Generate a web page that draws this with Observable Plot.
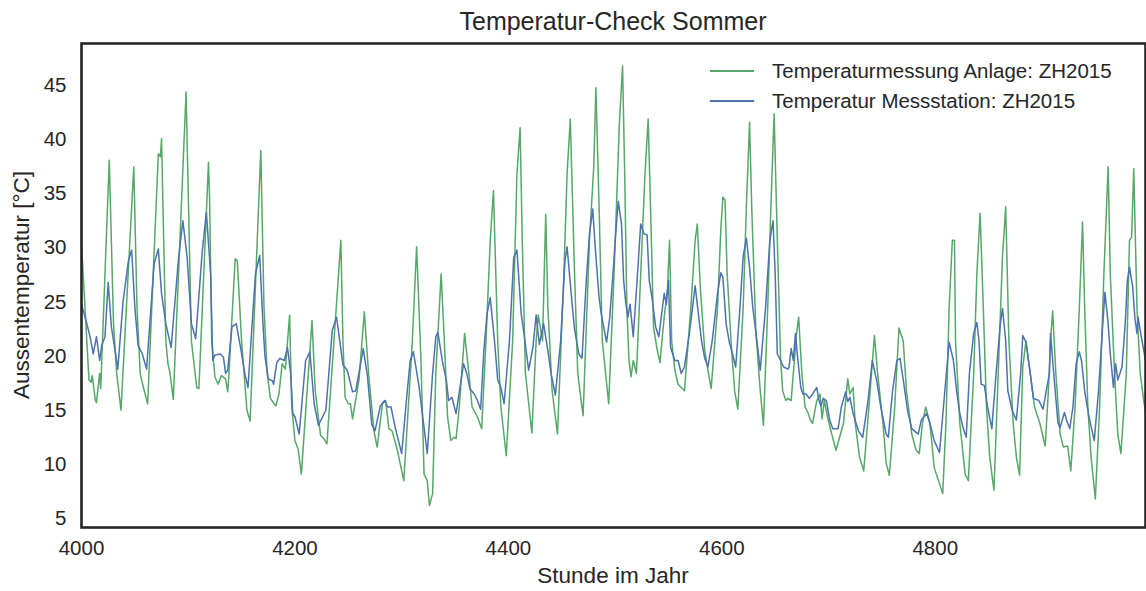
<!DOCTYPE html>
<html>
<head>
<meta charset="utf-8">
<script src="https://cdn.jsdelivr.net/npm/d3@7"></script>
<script src="https://cdn.jsdelivr.net/npm/@observablehq/plot@0.6"></script>
<style>
  html, body { margin: 0; padding: 0; background: #fff; }
  body { width: 1146px; height: 591px; overflow: hidden; font-family: "Liberation Sans", Arial, Helvetica, sans-serif; color: #262626; }
  #wrap { position: relative; width: 1146px; height: 591px; }
  #title { position: absolute; left: 81px; width: 1064px; top: 6px; text-align: center; font-size: 25px; line-height: 30px; }
  #xlabel { position: absolute; left: 81px; width: 1064px; top: 563px; text-align: center; font-size: 22.5px; line-height: 26px; }
  #ylabel { position: absolute; left: 22px; top: 285px; transform: translate(-50%, -50%) rotate(-90deg); white-space: nowrap; font-size: 22.5px; line-height: 26px; }
  #legend { position: absolute; left: 710px; top: 56px; font-size: 20.5px; }
  .row { display: flex; align-items: center; height: 30px; }
  .row svg { margin-right: 18px; }
</style>
</head>
<body>
<div id="wrap">
  <div id="chart"></div>
  <div id="title"></div>
  <div id="xlabel"></div>
  <div id="ylabel"></div>
  <div id="legend"></div>
</div>
<script>
const titleText = "Temperatur-Check Sommer";
const xLabelText = "Stunde im Jahr";
const yLabelText = "Aussentemperatur [°C]";
const seriesNames = ["Temperaturmessung Anlage: ZH2015", "Temperatur Messstation: ZH2015"];
const seriesColors = ["#55a868", "#4c72b0"];
const xTicks = [4000, 4200, 4400, 4600, 4800];
const yTicks = [5, 10, 15, 20, 25, 30, 35, 40, 45];

// [Stunde, °C]
const anlage = [
[4000,30.4],[4007,17.8],[4009,17.6],[4010,18.2],[4013,15.9],[4014,15.7],[4017,18.4],[4018,17.0],[4026,38.1],[4030,23.0],[4033,18.4],[4037,15.0],[4049,37.5],[4052,24.5],[4055,18.4],[4058,17.1],[4062,15.6],[4072,38.7],[4074,38.4],[4075,40.1],[4079,21.4],[4081,19.3],[4083,18.4],[4086,16.0],[4098,44.4],[4103,21.4],[4108,17.1],[4110,17.0],[4119,37.9],[4120,34.7],[4122,21.4],[4125,18.1],[4128,17.4],[4131,18.2],[4135,17.9],[4137,16.7],[4138,18.1],[4144,29.0],[4146,28.8],[4150,21.4],[4155,15.0],[4158,14.0],[4168,39.0],
[4171,24.5],[4174,18.4],[4177,16.1],[4182,15.4],[4185,16.5],[4188,19.3],[4191,18.8],[4195,23.8],[4197,15.3],[4200,12.2],[4203,11.4],[4206,9.1],[4216,23.3],[4219,16.8],[4224,12.7],[4227,12.4],[4230,11.9],[4243,30.7],[4245,21.4],[4247,16.2],[4250,15.6],[4252,15.6],[4254,14.2],[4260,17.8],[4265,24.1],[4269,18.4],[4274,13.1],[4277,11.6],[4282,15.6],[4285,15.9],[4288,13.3],[4291,13.1],[4296,11.3],[4302,8.5],[4307,16.5],[4310,21.4],[4314,30.1],[4318,19.9],[4321,9.1],[4324,8.5],[4326,6.2],
[4329,7.3],[4332,18.4],[4337,27.6],[4340,21.4],[4343,14.4],[4346,12.2],[4349,12.5],[4351,12.4],[4354,15.3],[4359,22.1],[4363,18.4],[4366,15.3],[4371,14.4],[4375,13.3],[4379,21.4],[4383,30.7],[4386,35.3],[4390,21.4],[4393,15.3],[4398,10.8],[4404,21.4],[4408,36.8],[4411,41.1],[4413,30.7],[4416,18.4],[4422,12.9],[4426,21.4],[4428,23.8],[4432,21.4],[4435,33.1],[4437,24.5],[4441,16.8],[4446,12.8],[4452,27.6],[4455,36.8],[4458,41.9],[4462,27.6],[4465,18.4],[4470,14.5],[4476,30.7],[4480,37.5],[4482,44.8],[4485,33.8],[4488,21.4],[4494,15.6],
[4499,27.6],[4504,41.5],[4507,46.8],[4509,36.8],[4511,24.5],[4513,19.6],[4515,18.1],[4517,19.6],[4520,18.4],[4524,27.6],[4528,36.8],[4531,41.9],[4534,30.7],[4536,22.7],[4539,20.8],[4542,19.4],[4546,23.6],[4549,26.1],[4551,30.7],[4553,21.4],[4556,18.7],[4559,17.4],[4562,17.1],[4565,16.8],[4571,24.5],[4575,30.7],[4577,32.2],[4580,26.1],[4584,20.5],[4587,18.7],[4590,17.0],[4596,24.5],[4599,31.6],[4601,34.7],[4603,34.4],[4605,27.6],[4609,20.8],[4612,16.8],[4615,15.1],[4620,24.5],[4623,33.8],[4626,41.6],[4628,33.8],[4632,22.1],[4636,16.8],[4639,13.6],[4643,24.5],[4646,33.8],[4649,42.4],[4652,30.7],[4655,19.9],[4657,16.8],[4660,15.9],[4662,16.1],[4665,15.9],
[4667,18.4],[4670,22.1],[4672,23.6],[4675,18.4],[4678,15.3],[4681,14.7],[4683,14.1],[4685,13.8],[4689,15.9],[4692,16.5],[4694,14.2],[4696,15.9],[4699,14.4],[4703,12.8],[4707,11.3],[4714,13.8],[4718,17.9],[4720,16.5],[4723,17.1],[4725,13.8],[4729,10.7],[4733,9.4],[4739,16.8],[4743,21.9],[4746,18.4],[4751,13.8],[4754,10.1],[4757,9.0],[4762,15.3],[4766,22.6],[4770,21.4],[4773,16.8],[4778,12.8],[4782,11.3],[4785,11.0],[4788,13.8],[4791,15.3],[4795,13.8],[4799,9.7],[4803,8.5],[4807,7.3],[4810,13.8],[4813,24.5],[4816,30.7],[4818,30.7],[4819,21.4],[4823,13.8],[4828,9.1],[4831,8.5],
[4836,18.4],[4839,27.6],[4842,33.2],[4845,24.5],[4848,15.3],[4851,10.7],[4855,7.6],[4859,18.4],[4863,29.2],[4866,33.8],[4869,21.4],[4873,13.8],[4876,10.7],[4879,9.0],[4882,19.0],[4885,21.4],[4889,18.4],[4893,15.3],[4898,13.8],[4903,11.7],[4906,16.8],[4908,21.4],[4910,24.2],[4913,18.4],[4917,12.8],[4920,11.6],[4924,11.7],[4927,9.4],[4931,15.3],[4935,24.5],[4938,32.4],[4940,24.5],[4943,15.3],[4946,10.7],[4950,6.8],[4954,15.3],[4958,27.6],[4962,37.5],[4964,27.6],[4968,18.4],[4971,12.8],[4974,11.0],[4979,18.4],[4982,30.7],[4984,31.0],[4986,37.3],[4989,24.5],[4992,18.4],[4997,14.7]
];

const messstation = [
[4000,24.8],[4005,23.0],[4008,21.8],[4011,20.2],[4014,21.8],[4017,19.6],[4019,21.0],[4022,21.8],[4025,26.8],[4028,22.7],[4031,20.8],[4034,18.8],[4039,25.1],[4044,28.8],[4047,29.8],[4050,24.5],[4053,21.0],[4057,20.2],[4061,18.8],[4068,28.5],[4072,29.9],[4075,25.8],[4079,23.0],[4084,20.8],[4091,29.1],[4095,32.5],[4099,29.1],[4103,23.0],[4107,21.6],[4113,29.5],[4117,33.3],[4121,27.6],[4123,19.6],[4125,20.1],[4130,20.2],[4133,19.9],[4135,18.4],[4137,18.7],[4141,22.7],[4145,23.0],[4149,20.8],[4153,18.4],[4156,17.1],[4163,27.6],[4167,29.3],
[4170,23.0],[4172,19.9],[4175,17.9],[4179,17.7],[4180,17.4],[4183,19.4],[4186,19.8],[4190,19.6],[4193,20.8],[4196,18.4],[4198,14.7],[4200,14.4],[4204,12.8],[4210,19.6],[4214,20.4],[4218,15.6],[4222,13.6],[4229,15.0],[4235,22.4],[4239,23.6],[4245,19.2],[4249,18.7],[4254,16.7],[4257,16.8],[4264,20.7],[4268,18.1],[4272,13.7],[4275,13.1],[4280,15.4],[4284,15.9],[4287,15.3],[4290,15.3],[4294,13.4],[4300,11.0],[4305,16.5],[4308,19.6],[4311,20.4],[4316,17.4],[4321,13.4],[4324,11.0],[4329,18.4],
[4332,21.8],[4334,22.2],[4338,19.6],[4342,17.7],[4344,15.9],[4347,16.2],[4351,14.7],[4358,19.3],[4361,18.4],[4364,17.0],[4368,16.5],[4371,15.9],[4374,15.1],[4377,20.5],[4380,23.9],[4383,25.4],[4387,21.4],[4390,17.8],[4393,17.1],[4396,15.6],[4401,21.4],[4405,29.1],[4408,29.8],[4412,23.9],[4415,21.8],[4419,18.7],[4423,20.8],[4426,23.8],[4429,21.1],[4433,23.0],[4437,20.5],[4440,18.4],[4444,16.4],[4449,21.4],[4453,28.8],[4455,30.1],[4460,24.5],[4462,22.5],[4466,20.2],[4469,19.8],[4473,27.0],[4476,31.3],[4479,33.6],[4482,29.2],[4485,25.4],[4487,23.9],[4492,21.3],[4495,23.6],[4498,27.6],
[4501,31.9],[4503,34.3],[4506,32.2],[4508,27.0],[4510,24.9],[4512,23.6],[4514,24.8],[4517,21.8],[4520,26.1],[4524,32.2],[4527,31.3],[4530,31.2],[4532,27.0],[4535,25.1],[4538,22.7],[4541,21.8],[4546,25.8],[4548,24.8],[4550,27.0],[4552,20.8],[4556,19.6],[4559,19.6],[4562,18.4],[4565,19.0],[4570,22.4],[4575,26.5],[4577,24.8],[4581,21.4],[4584,19.8],[4587,19.0],[4591,21.4],[4596,25.8],[4599,27.7],[4601,27.3],[4604,23.0],[4607,21.3],[4610,20.2],[4613,19.0],[4617,24.5],[4620,29.2],[4623,30.9],[4626,28.2],[4629,24.5],[4634,20.5],[4636,18.7],[4641,24.5],[4645,30.7],[4648,32.5],[4650,27.6],[4652,20.2],[4655,19.6],[4658,19.0],[4662,18.8],
[4663,19.0],[4665,20.7],[4667,19.6],[4669,22.1],[4671,19.9],[4674,17.1],[4676,16.5],[4679,16.5],[4682,16.1],[4685,16.5],[4689,17.1],[4691,15.9],[4693,15.4],[4695,16.1],[4698,15.9],[4701,14.1],[4704,13.3],[4709,13.3],[4712,15.3],[4716,16.7],[4718,15.8],[4720,16.2],[4723,14.7],[4728,13.1],[4732,12.5],[4737,15.9],[4741,19.6],[4745,17.8],[4749,15.3],[4754,12.8],[4756,12.5],[4760,16.8],[4764,19.6],[4767,19.8],[4770,17.8],[4774,15.0],[4778,13.3],[4784,12.8],[4787,14.1],[4792,14.7],[4795,13.8],[4799,12.2],[4804,11.1],[4809,16.8],[4813,21.3],[4817,19.6],[4820,16.8],[4823,14.7],[4826,13.4],[4829,12.5],
[4832,18.4],[4836,22.1],[4839,23.1],[4841,21.4],[4843,17.4],[4846,17.3],[4849,15.3],[4853,13.3],[4857,18.4],[4861,23.0],[4863,24.4],[4866,21.4],[4868,16.8],[4872,15.0],[4876,14.1],[4880,18.4],[4882,21.9],[4885,21.3],[4889,18.4],[4892,16.1],[4897,15.9],[4901,15.1],[4904,16.8],[4907,18.4],[4908,22.1],[4911,18.4],[4915,13.8],[4917,13.4],[4921,14.8],[4923,14.1],[4926,13.3],[4929,15.3],[4932,19.3],[4935,20.4],[4937,19.6],[4940,16.8],[4944,14.4],[4949,12.2],[4953,16.8],[4957,23.0],[4959,25.9],[4962,23.0],[4964,20.2],[4967,17.1],[4969,19.3],[4971,17.8],[4975,19.0],[4978,23.0],[4980,27.0],[4982,28.2],[4985,26.4],[4987,23.6],[4989,22.1],[4990,23.6],[4992,22.4],[4997,19.6]
];

const toRows = (arr, name) => arr.map(([h, t]) => ({stunde: h, temp: t, serie: name}));
const rowsAnlage = toRows(anlage, seriesNames[0]);
const rowsStation = toRows(messstation, seriesNames[1]);

const chart = Plot.plot({
  width: 1146,
  height: 591,
  marginLeft: 81,
  marginRight: 1,
  marginTop: 43,
  marginBottom: 64,
  style: {fontFamily: '"Liberation Sans", Arial, Helvetica, sans-serif', fontSize: "20.5px", color: "#262626", background: "white"},
  x: {domain: [4000, 4997], ticks: xTicks, tickSize: 0, tickPadding: 13, label: null, tickFormat: d => String(d)},
  y: {domain: [4.17, 48.88], ticks: yTicks, tickSize: 0, tickPadding: 15, label: null},
  marks: [
    Plot.line(rowsAnlage, {x: "stunde", y: "temp", stroke: seriesColors[0], strokeWidth: 1.5}),
    Plot.line(rowsStation, {x: "stunde", y: "temp", stroke: seriesColors[1], strokeWidth: 1.5}),
    Plot.frame({stroke: "#262626", strokeWidth: 2.6})
  ]
});
document.getElementById("chart").appendChild(chart);

document.getElementById("title").textContent = titleText;
document.getElementById("xlabel").textContent = xLabelText;
document.getElementById("ylabel").textContent = yLabelText;
const legend = document.getElementById("legend");
seriesNames.forEach((name, i) => {
  const row = document.createElement("div");
  row.className = "row";
  row.innerHTML = `<svg width="44" height="4"><line x1="0" y1="2" x2="44" y2="2" stroke="${seriesColors[i]}" stroke-width="2"/></svg><span>${name}</span>`;
  legend.appendChild(row);
});
</script>
</body>
</html>
